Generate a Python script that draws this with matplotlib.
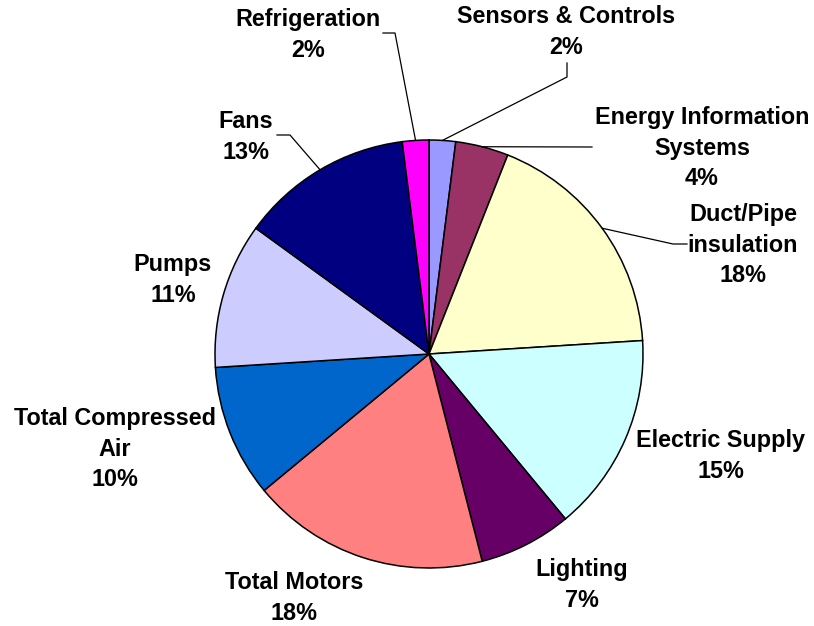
import numpy as np
import matplotlib
matplotlib.use("Agg")
import matplotlib.pyplot as plt

plt.rcParams['font.family'] = ['Liberation Sans', 'DejaVu Sans']

# share of savings by system type, clockwise from 12 o'clock
categories = ["Sensors & Controls", "Energy Information\nSystems", "Duct/Pipe\ninsulation",
              "Electric Supply", "Lighting", "Total Motors", "Total Compressed\nAir",
              "Pumps", "Fans", "Refrigeration"]
values = [2, 4, 18, 15, 7, 18, 10, 11, 13, 2]
colors = ["#9999FF", "#993366", "#FFFFCC", "#CCFFFF", "#660066",
          "#FF8080", "#0066CC", "#CCCCFF", "#000080", "#FF00FF"]

W, H = 814, 626
CX, CY, R = 429, 354, 214   # pie centre / radius in pixels


def px(x, y):
    # pixel position -> data units (radius = 1)
    return ((x - CX) / R, (CY - y) / R)


# label centre positions (pixels) and optional leader elbow points
label_pos = [(566, 32), (702, 148), (743, 245), (721, 456), (582, 585),
             (294, 598), (115, 449), (173, 280), (246, 137), (308, 35)]
leaders = {
    0: [(567, 77), (567, 63)],
    1: [(592, 147)],
    2: [(673, 244), (687, 244)],
    8: [(290, 135), (277, 135)],
    9: [(395, 33), (383, 33)],
}

fig = plt.figure(figsize=(W / 100, H / 100), dpi=100)
ax = fig.add_axes([0, 0, 1, 1])

wedges, _ = ax.pie(values, colors=colors, startangle=90, counterclock=False,
                   radius=1, wedgeprops=dict(edgecolor="black", linewidth=1.1))

ax.set_xlim(-CX / R, (W - CX) / R)
ax.set_ylim(-(H - CY) / R, CY / R)
ax.set_aspect('equal', adjustable='box')
ax.axis('off')

for i, (name, v) in enumerate(zip(categories, values)):
    x, y = px(*label_pos[i])
    ax.text(x, y, f"{name}\n{v}%", ha="center", va="center", fontsize=16.8,
            fontweight="bold", linespacing=1.4)
    if i in leaders:
        w = wedges[i]
        mid = np.deg2rad((w.theta1 + w.theta2) / 2)
        pts = [(np.cos(mid), np.sin(mid))] + [px(*p) for p in leaders[i]]
        xs, ys = zip(*pts)
        ax.plot(xs, ys, color="black", linewidth=0.9)

fig.savefig("out.png", dpi=100)
